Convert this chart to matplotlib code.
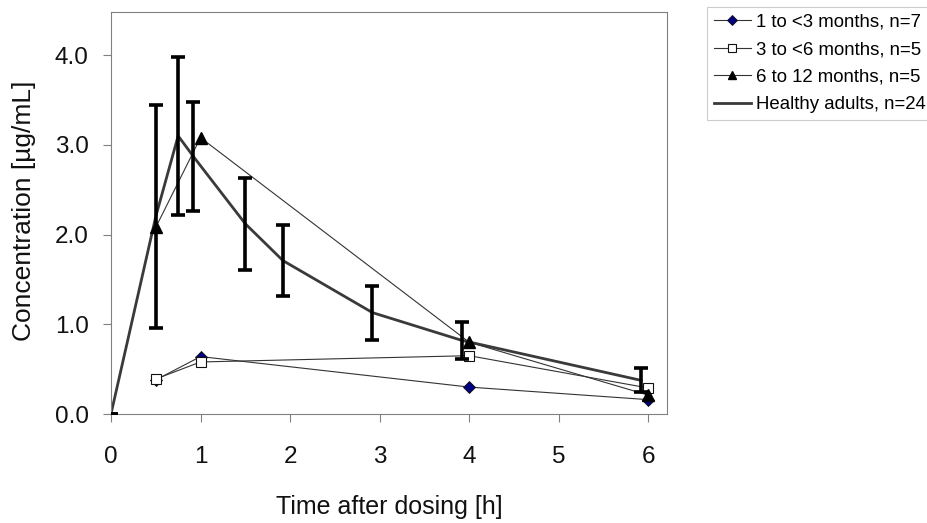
import matplotlib.pyplot as plt
import numpy as np

plt.rcParams['font.family'] = ['Liberation Sans', 'DejaVu Sans']

# healthy adults: mean and SD
adult_t = [0, 0.5, 0.75, 0.92, 1.5, 1.92, 2.92, 3.92, 5.92]
adult_c = [0, 2.2, 3.1, 2.87, 2.12, 1.71, 1.13, 0.82, 0.375]
adult_sd = [0, 1.24, 0.88, 0.61, 0.51, 0.40, 0.30, 0.21, 0.135]

# infant groups
inf_t = [0.5, 1.0, 4.0, 6.0]
grp1_c = [0.38, 0.64, 0.30, 0.16]   # 1 to <3 months
grp2_c = [0.39, 0.58, 0.65, 0.29]   # 3 to <6 months
grp3_c = [2.08, 3.08, 0.80, 0.21]   # 6 to 12 months

yticks = [0.0, 1.0, 2.0, 3.0, 4.0]
xticks = [0, 1, 2, 3, 4, 5, 6]


def main():
    fig = plt.figure(figsize=(9.28, 5.23), dpi=100)
    ax = fig.add_axes([0.1196, 0.2084, 0.5992, 0.7686])

    ax.plot(inf_t, grp1_c, color='#333333', lw=0.8, marker='D', ms=6,
            mfc='#000080', mec='#111111', mew=0.6, label='1 to <3 months, n=7', zorder=3)
    ax.plot(inf_t, grp2_c, color='#333333', lw=0.8, marker='s', ms=7,
            mfc='white', mec='#111111', mew=0.8, label='3 to <6 months, n=5', zorder=3)
    ax.plot(inf_t, grp3_c, color='#333333', lw=0.8, marker='^', ms=8,
            mfc='black', mec='black', label='6 to 12 months, n=5', zorder=3)
    ax.plot(adult_t, adult_c, color='#3a3a3a', lw=2.0, label='Healthy adults, n=24', zorder=2)
    ax.errorbar(adult_t, adult_c, yerr=adult_sd, fmt='none', ecolor='black',
                elinewidth=2.6, capsize=5, capthick=2.6, zorder=4)

    ax.set_xlim(0, 6.21)
    ax.set_ylim(0, 4.48)
    ax.set_xticks(xticks)
    ax.set_yticks(yticks)
    ax.set_yticklabels(['%.1f' % v for v in yticks])
    ax.tick_params(length=6, color='#808080', direction='out', labelcolor='#111111',
                   labelsize=17.5)
    ax.tick_params(axis='x', pad=17)
    ax.tick_params(axis='y', pad=10)
    for s in ax.spines.values():
        s.set_color('#808080')
    ax.set_xlabel('Time after dosing [h]', fontsize=18, color='#111111')
    ax.set_ylabel('Concentration [µg/mL]', fontsize=19, color='#111111')
    ax.xaxis.set_label_coords(0.5, -0.2015)
    ax.yaxis.set_label_coords(-0.135, 0.506)

    leg = fig.legend(loc='upper left', bbox_to_anchor=(0.762, 0.986), fontsize=13.4,
                     frameon=True, fancybox=False, edgecolor='#c0c0c0',
                     handlelength=2.0, handletextpad=0.3, labelspacing=0.56,
                     borderpad=0.35, borderaxespad=0, markerscale=0.8)
    leg.get_frame().set_linewidth(0.8)

    plt.savefig('out.png', dpi=100)
    return 0


if __name__ == "__main__":
    main()
